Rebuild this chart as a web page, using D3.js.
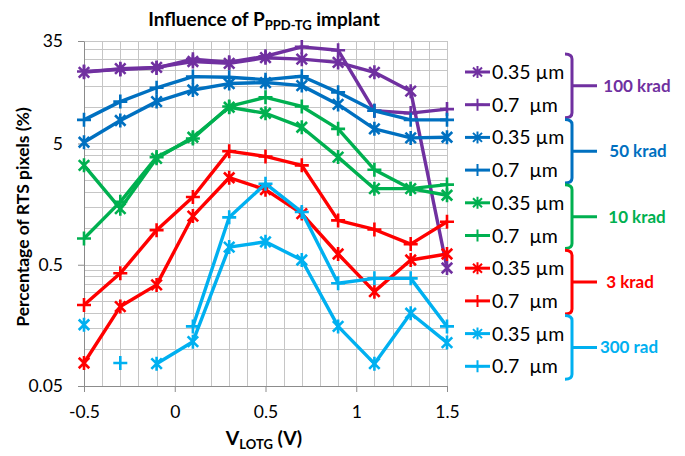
<!DOCTYPE html>
<html>
<head>
<meta charset="utf-8">
<script src="https://cdn.jsdelivr.net/npm/d3@7"></script>
<style>
  html, body { margin: 0; padding: 0; background: #fff; }
  svg { display: block; font-family: Lato, "Open Sans", sans-serif; }
</style>
</head>
<body>
<svg id="chart" width="685" height="456"></svg>
<script>
// ---------------- DATA ----------------
const xValues = [-0.5, -0.3, -0.1, 0.1, 0.3, 0.5, 0.7, 0.9, 1.1, 1.3, 1.5];
const xTickValues = [-0.5, 0, 0.5, 1, 1.5];
const xTickLabels = ["-0.5", "0", "0.5", "1", "1.5"];
const yTickValues = [0.05, 0.5, 5, 35];
const yTickLabels = ["0.05", "0.5", "5", "35"];

const purple035 = [19.3, 20.7, 21.2, 23.7, 22.9, 25.5, 24.8, 23.3, 19.3, 13.5, 0.47];
const purple07  = [19.6, 20.4, 21.0, 24.8, 23.4, 26.2, 31.3, 29.4, 9.3, 8.9, 9.6];
const blue035   = [5.12, 7.73, 11.07, 13.8, 15.6, 15.9, 15.0, 10.5, 6.6, 5.56, 5.63];
const blue07    = [7.83, 11.07, 14.4, 17.8, 17.6, 16.8, 17.9, 13.2, 9.3, 7.83, 7.83];
const green035  = [3.30, 1.45, 3.77, 5.63, 9.94, 8.88, 6.81, 3.86, 2.12, 2.12, 1.87];
const green07   = [0.824, 1.65, 3.86, 5.5, 10.1, 12.0, 10.1, 6.6, 3.04, 2.12, 2.29];
const red035    = [0.0774, 0.226, 0.341, 1.26, 2.61, 2.08, 1.32, 0.613, 0.30, 0.547, 0.613];
const red07     = [0.233, 0.425, 0.964, 1.81, 4.32, 3.91, 3.30, 1.16, 0.977, 0.74, 1.13];
const lblue035  = [0.160, null, 0.0764, 0.116, 0.699, 0.773, 0.547, 0.155, 0.0764, 0.199, 0.114];
const lblue07   = [null, 0.0774, null, 0.155, 1.23, 2.33, 1.36, 0.352, 0.386, 0.386, 0.155];

const seriesLabels = ["0.35 µm", "0.7  µm"];
const groupLabels = ["100 krad", "50 krad", "10 krad", "3 krad", "300 rad"];
const groupColors = ["#7030A0", "#0070C0", "#00B050", "#FF0000", "#00B0F0"];
const groupSeries = [[purple035, purple07], [blue035, blue07], [green035, green07], [red035, red07], [lblue035, lblue07]];
const titleMain = "Influence of P";
const titleSub = "PPD-TG";
const titleEnd = " implant";
const yTitle = "Percentage of RTS pixels (%)";
const xTitleMain = "V";
const xTitleSub = "LOTG";
const xTitleEnd = " (V)";

// ---------------- LAYOUT ----------------
const svg = d3.select("#chart");
const plot = { left: 84, right: 447, top: 41, bottom: 386 };
const x = d3.scaleLinear().domain([-0.5, 1.5]).range([plot.left, plot.right]);
const y = d3.scaleLog().domain([0.05, 35]).range([plot.bottom, plot.top]);

// gridlines
const vGrid = d3.range(-5, 16).map(i => i / 10);
const hGrid = [];
[0.05, 0.5, 5].forEach(b => { for (let k = 1; k <= 9; k++) { const v = +(b * k).toFixed(4); if (v <= 35) hGrid.push(v); } });
hGrid.push(35);

const grid = svg.append("g").attr("stroke", "#c6c6c6").attr("stroke-width", 1).attr("shape-rendering", "crispEdges");
grid.selectAll("line.v").data(vGrid).join("line")
  .attr("x1", d => Math.round(x(d)) + 0.5).attr("x2", d => Math.round(x(d)) + 0.5)
  .attr("y1", plot.top).attr("y2", plot.bottom);
grid.selectAll("line.h").data(hGrid).join("line")
  .attr("y1", d => Math.round(y(d)) + 0.5).attr("y2", d => Math.round(y(d)) + 0.5)
  .attr("x1", plot.left).attr("x2", plot.right);

// axes
const xAxis = d3.axisBottom(x).tickValues(xTickValues).tickFormat((d, i) => xTickLabels[i]).tickSize(6).tickSizeOuter(0).tickPadding(14);
const gx = svg.append("g").attr("transform", `translate(0,${plot.bottom})`).call(xAxis);
gx.select(".domain").attr("stroke", "#8c8c8c");
gx.selectAll(".tick line").attr("stroke", "#8c8c8c");
gx.selectAll(".tick text").attr("font-size", 17.5).attr("fill", "#000").attr("font-family", "Lato");

const yAxis = d3.axisLeft(y).tickValues(yTickValues).tickFormat((d, i) => yTickLabels[i]).tickSize(6).tickSizeOuter(0).tickPadding(15);
const gy = svg.append("g").attr("transform", `translate(${plot.left},0)`).call(yAxis);
gy.select(".domain").attr("stroke", "#8c8c8c");
gy.selectAll(".tick line").attr("stroke", "#8c8c8c");
gy.selectAll(".tick text").attr("font-size", 17.5).attr("fill", "#000").attr("font-family", "Lato");

// markers
function starPath(r) {
  const d = r * 0.75;
  return `M0,${-r}V${r}M${-d},${-d}L${d},${d}M${-d},${d}L${d},${-d}`;
}
function plusPath(r) {
  return `M0,${-r}V${r}M${-r},0H${r}`;
}

const line = d3.line().defined(d => d.v != null).x(d => x(d.x)).y(d => y(d.v));
const seriesG = svg.append("g");
groupSeries.forEach((pair, gi) => {
  pair.forEach((vals, si) => {
    const pts = xValues.map((xv, i) => ({ x: xv, v: vals[i] }));
    const g = seriesG.append("g");
    g.append("path").datum(pts).attr("d", line).attr("fill", "none")
      .attr("stroke", groupColors[gi]).attr("stroke-width", 3.4).attr("stroke-linejoin", "round");
    g.selectAll("path.m").data(pts.filter(p => p.v != null)).join("path")
      .attr("class", "m")
      .attr("transform", p => `translate(${x(p.x)},${y(p.v)})`)
      .attr("d", si === 0 ? starPath(7) : plusPath(7))
      .attr("stroke", groupColors[gi]).attr("stroke-width", 2.6).attr("fill", "none");
  });
});

// title
const t = svg.append("text").attr("x", 264).attr("y", 26).attr("text-anchor", "middle")
  .attr("font-size", 19).attr("font-weight", "bold").attr("fill", "#000");
t.append("tspan").text(titleMain);
t.append("tspan").attr("font-size", 13).attr("dy", 4).text(titleSub);
t.append("tspan").attr("dy", -4).text(titleEnd);

// x title
const xt = svg.append("text").attr("x", 264).attr("y", 445).attr("text-anchor", "middle")
  .attr("font-size", 19.5).attr("font-weight", "bold").attr("fill", "#000");
xt.append("tspan").text(xTitleMain);
xt.append("tspan").attr("font-size", 13).attr("dy", 4).text(xTitleSub);
xt.append("tspan").attr("dy", -4).text(xTitleEnd);

// y title
svg.append("text").attr("transform", "translate(29,217) rotate(-90)").attr("text-anchor", "middle")
  .attr("font-size", 17.5).attr("font-weight", "bold").attr("fill", "#000").text(yTitle);

// legend
const leg = { x0: 465, x1: 490, textX: 492, y0: 72, step: 32.7, bx: 572, hook: 7, tickEnd: 597 };
const labelX = [637, 638, 637, 630, 629];
groupSeries.forEach((pair, gi) => {
  const c = groupColors[gi];
  pair.forEach((vals, si) => {
    const yy = leg.y0 + (gi * 2 + si) * leg.step;
    const g = svg.append("g");
    g.append("line").attr("x1", leg.x0).attr("x2", leg.x1).attr("y1", yy).attr("y2", yy)
      .attr("stroke", c).attr("stroke-width", 3);
    g.append("path").attr("transform", `translate(${(leg.x0 + leg.x1) / 2},${yy})`)
      .attr("d", si === 0 ? starPath(6) : plusPath(6)).attr("stroke", c).attr("stroke-width", 2).attr("fill", "none");
    g.append("text").attr("x", leg.textX).attr("y", yy + 7).attr("font-size", 19.5).attr("fill", "#000")
      .attr("xml:space", "preserve").style("white-space", "pre").text(seriesLabels[si]);
  });
  const yTop = leg.y0 + gi * 2 * leg.step - 18;
  const yBot = leg.y0 + (gi * 2 + 1) * leg.step + 13;
  const yMid = (yTop + yBot) / 2;
  const bx = leg.bx, h = leg.hook;
  svg.append("path")
    .attr("d", `M${bx - h},${yTop} Q${bx},${yTop} ${bx},${yTop + 5} V${yBot - 5} Q${bx},${yBot} ${bx - h},${yBot} M${bx},${yMid} H${leg.tickEnd}`)
    .attr("stroke", c).attr("stroke-width", 3).attr("fill", "none");
  svg.append("text").attr("x", labelX[gi]).attr("y", yMid + 6).attr("text-anchor", "middle")
    .attr("font-size", 17).attr("font-weight", "bold").attr("fill", c).text(groupLabels[gi]);
});
</script>
</body>
</html>
